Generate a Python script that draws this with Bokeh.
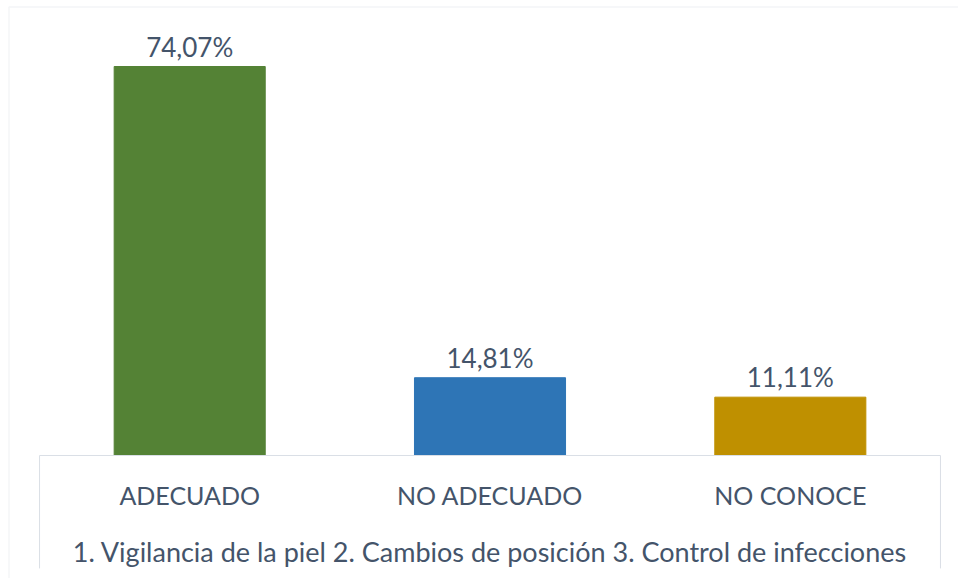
from bokeh.plotting import figure
from bokeh.models import ColumnDataSource, LabelSet, Label, BoxAnnotation, Range1d
from bokeh.core.properties import value
from bokeh.embed import file_html
from bokeh.resources import INLINE

categories = ["ADECUADO", "NO ADECUADO", "NO CONOCE"]
values = [74.07, 14.81, 11.11]
labels = ["74,07%", "14,81%", "11,11%"]
colors = ["#548235", "#2E75B6", "#BF9000"]
axis_title = "1. Vigilancia de la piel 2. Cambios de posición 3. Control de infecciones"

TEXT = "#44546A"
LINE = "#DADFE6"
FONT = value("Lato")
W, H = 958, 578

n = len(categories)
xpos = [i + 0.5 for i in range(n)]
src = ColumnDataSource(dict(x=xpos, cat=categories, val=values, lab=labels, col=colors,
                            zero=[0] * n))

p = figure(width=W, height=H, output_backend="svg", toolbar_location=None,
           x_range=Range1d(-0.13, 3.06), y_range=Range1d(-23.42, 86.64),
           min_border=0, min_border_left=0, min_border_right=0,
           min_border_top=0, min_border_bottom=0)
p.title.visible = False
p.axis.visible = False
p.grid.visible = False
p.outline_line_color = None

p.vbar(x="x", top="val", width=0.503, color="col", source=src)

# value labels
p.add_layout(LabelSet(x="x", y="val", text="lab", source=src, text_align="center",
                      text_baseline="middle", y_offset=20, text_font=FONT,
                      text_font_size="26px", text_color=TEXT))
# category labels
p.add_layout(LabelSet(x="x", y="zero", text="cat", source=src, text_align="center",
                      text_baseline="middle", y_offset=-39, text_font=FONT,
                      text_font_size="25px", text_color=TEXT))
# axis title
p.add_layout(Label(x=n / 2, y=0, text=axis_title, text_align="center",
                   text_baseline="middle", y_offset=-96, text_font="Lato",
                   text_font_size="27px", text_color=TEXT))

# category axis box (open at the bottom)
p.segment(x0=[0, n, 0], y0=[0, 0, 0], x1=[0, n, n], y1=[-21.5, -21.5, 0],
          line_color=LINE, line_width=1)

# chart border
p.add_layout(BoxAnnotation(left=8.5, right=W + 10, top=6.5, bottom=H + 10,
                           left_units="canvas", right_units="canvas",
                           top_units="canvas", bottom_units="canvas",
                           fill_color=None, line_color=LINE, line_width=1.5))

open("out.html", "w").write(file_html(p, INLINE))
